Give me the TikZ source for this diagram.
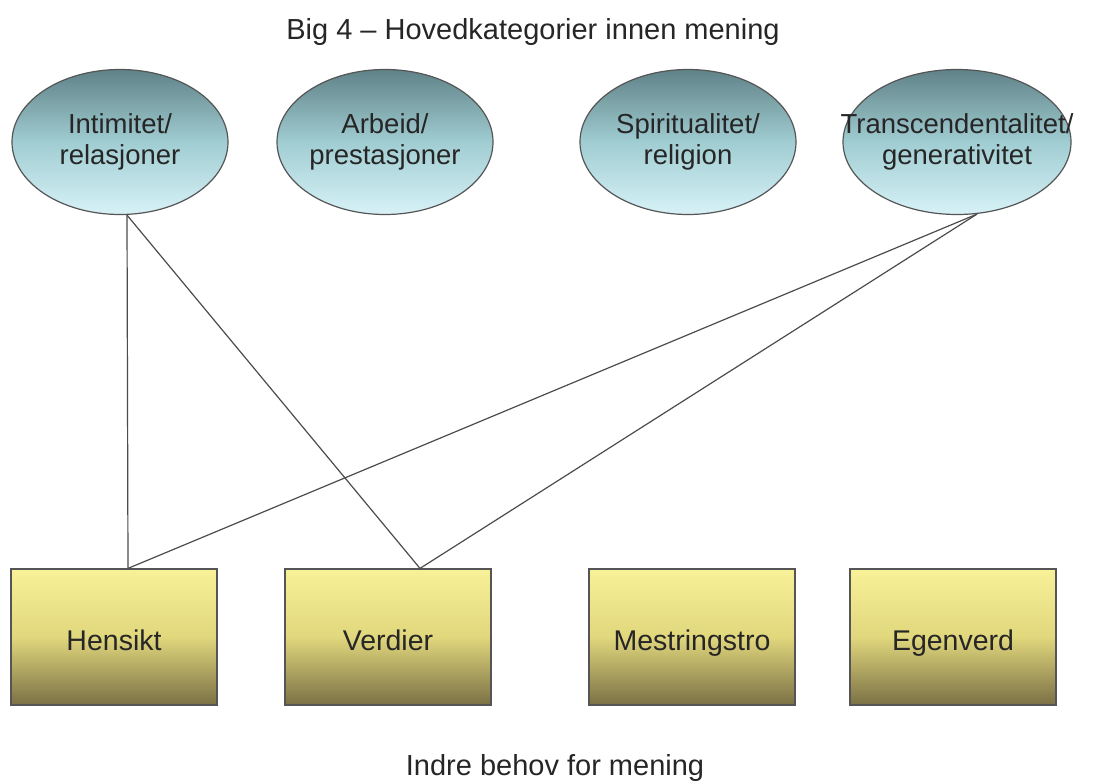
\documentclass[tikz,border=0pt]{standalone}
\usepackage{fontspec}
\setmainfont{Liberation Sans}
\usetikzlibrary{shapes.geometric,calc}
\definecolor{elltop}{RGB}{95,130,135}
\definecolor{ellmid}{RGB}{160,205,210}
\definecolor{ellbot}{RGB}{215,242,247}
\definecolor{boxtop}{RGB}{248,241,152}
\definecolor{boxmid}{RGB}{225,215,125}
\definecolor{boxbot}{RGB}{122,112,68}
\definecolor{edgegray}{RGB}{85,85,85}
\tikzset{
  cat/.style={ellipse, draw=edgegray, line width=1.2pt, minimum width=216pt, minimum height=145pt,
    inner sep=0pt, align=center, top color=elltop, bottom color=ellbot, middle color=ellmid,
    font=\fontsize{27.5}{31}\selectfont, text=black!85},
  need/.style={rectangle, draw=edgegray, line width=1.2pt, minimum width=206pt, minimum height=136pt,
    inner sep=0pt, align=center, top color=boxtop, bottom color=boxbot, middle color=boxmid,
    font=\fontsize{28.5}{31}\selectfont, text=black!85, text height=26pt, text depth=0pt},
  link/.style={draw=black!70, line width=1.2pt},
  heading/.style={font=\fontsize{29}{31}\selectfont, text=black!85}
}
\begin{document}
\begin{tikzpicture}[x=1pt,y=-1pt]
\useasboundingbox[fill=white] (0,0) rectangle (1111,784);
\node[heading] (title) at (533,32) {Big 4 – Hovedkategorier innen mening};
\node[heading] (foot) at (555,768) {Indre behov for mening};

\node[cat] (c1) at (120,142) {Intimitet/\\relasjoner};
\node[cat] (c2) at (385,142) {Arbeid/\\prestasjoner};
\node[cat] (c3) at (688,142) {Spiritualitet/\\religion};
\node[cat, minimum width=228pt] (c4) at (957,142) {\hspace*{-40pt}Transcendentalitet/\hspace*{-40pt}\\generativitet};

\node[need] (n1) at (114,637) {Hensikt};
\node[need] (n2) at (388,637) {Verdier};
\node[need] (n3) at (692,637) {Mestringstro};
\node[need] (n4) at (953,637) {Egenverd};

\coordinate (c1b) at ($(c1.south)+(7,0)$);
\coordinate (c4b) at ($(c4.south)+(20,-1)$);
\coordinate (n1t) at ($(n1.north)+(14,0)$);
\coordinate (n2t) at ($(n2.north)+(32,0)$);

\draw[link] (c1b) -- (n1t);
\draw[link] (c1b) -- (n2t);
\draw[link] (c4b) -- (n1t);
\draw[link] (c4b) -- (n2t);
\end{tikzpicture}
\end{document}
